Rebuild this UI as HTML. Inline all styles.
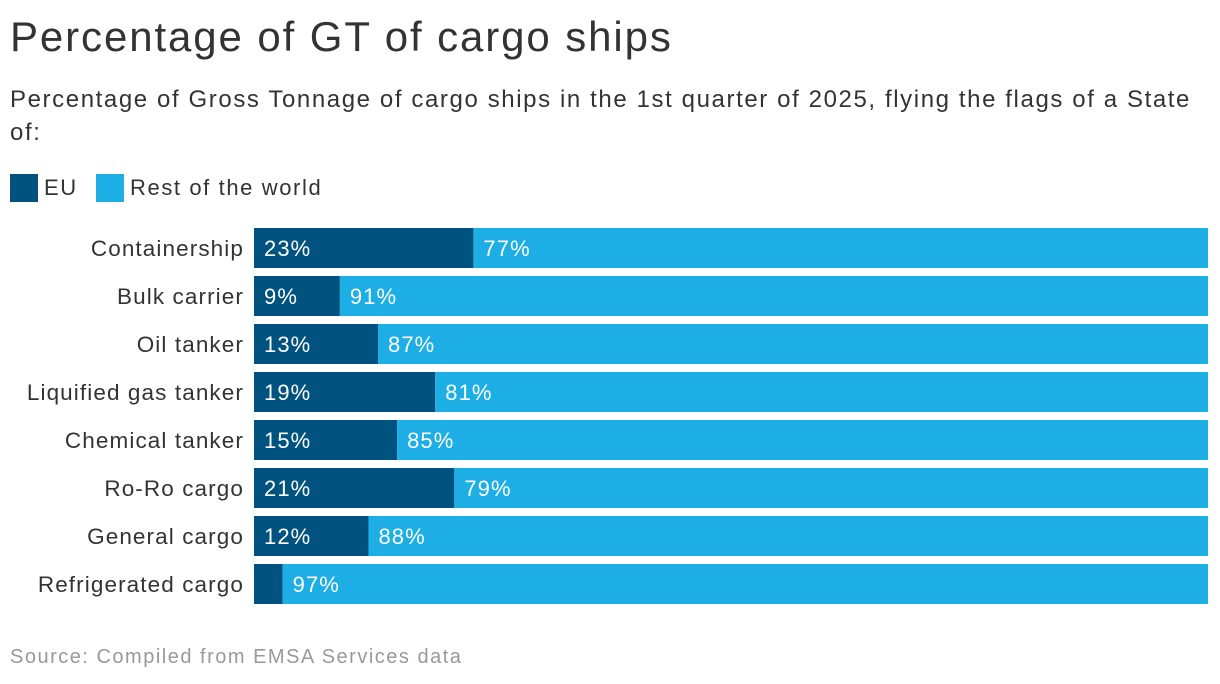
<!DOCTYPE html>
<html><head><meta charset="utf-8"><style>
body{margin:0;width:1220px;height:684px;background:#fff;font-family:"Liberation Sans",sans-serif;color:#333;position:relative;overflow:hidden}
.t{position:absolute;left:10px;top:13px;font-size:42px;letter-spacing:1.9px;color:#333;white-space:nowrap}
.s{position:absolute;left:10px;top:83px;width:1210px;font-size:24px;letter-spacing:1.6px;line-height:33px;color:#333}
.lg{position:absolute;top:174px;height:28px;font-size:22px;letter-spacing:1.6px;line-height:28px}
.sq{position:absolute;width:28px;height:28px}
.src{position:absolute;left:10px;top:646px;font-size:20px;letter-spacing:1.5px;color:#999;white-space:nowrap}
svg text{letter-spacing:1.1px}
</style></head><body>
<div class="t">Percentage of GT of cargo ships</div>
<div class="s">Percentage of Gross Tonnage of cargo ships in the 1st quarter of 2025, flying the flags of a State<br>of:</div>
<div>
<div class="sq" style="left:10px;top:174px;background:#00527f"></div>
<div class="lg" style="left:44px">EU</div>
<div class="sq" style="left:96px;top:174px;background:#1eaee6"></div>
<div class="lg" style="left:130px">Rest of the world</div>
</div>
<svg id="c" width="1220" height="684" style="position:absolute;left:0;top:0"></svg>
<div class="src">Source: Compiled from EMSA Services data</div>
<script>
const categories=["Containership","Bulk carrier","Oil tanker","Liquified gas tanker","Chemical tanker","Ro-Ro cargo","General cargo","Refrigerated cargo"];
const euValues=[23,9,13,19,15,21,12,3];
const restValues=[77,91,87,81,85,79,88,97];
const svg=document.getElementById('c');const NS='http://www.w3.org/2000/svg';
const x0=254,x1=1208,top0=228,step=48,bh=40;
const xs=v=>x0+v/100*(x1-x0);
function mk(t,a){const e=document.createElementNS(NS,t);for(const k in a)e.setAttribute(k,a[k]);svg.appendChild(e);return e;}
categories.forEach((c,i)=>{
 const y=top0+i*step;const xe=xs(euValues[i]);const xr=xs(euValues[i]+restValues[i]);
 const l=mk('text',{x:244,y:y+bh/2+8,'text-anchor':'end','font-size':22.5,fill:'#333'});l.textContent=c;
 
 
 const a=mk('rect',{x:x0,y:y,width:xe-x0,height:bh,fill:'#00527f'});
 
 
 const b=mk('rect',{x:xe,y:y,width:xr-xe,height:bh,fill:'#1eaee6'});
 
 
 if(euValues[i]>=5){const t=mk('text',{x:x0+10,y:y+bh/2+8,'font-size':22,fill:'#fff'});t.textContent=euValues[i]+'%';
 
 }
 const t2=mk('text',{x:xe+10,y:y+bh/2+8,'font-size':22,fill:'#fff'});t2.textContent=restValues[i]+'%';
 
 
});
</script>
</body></html>
